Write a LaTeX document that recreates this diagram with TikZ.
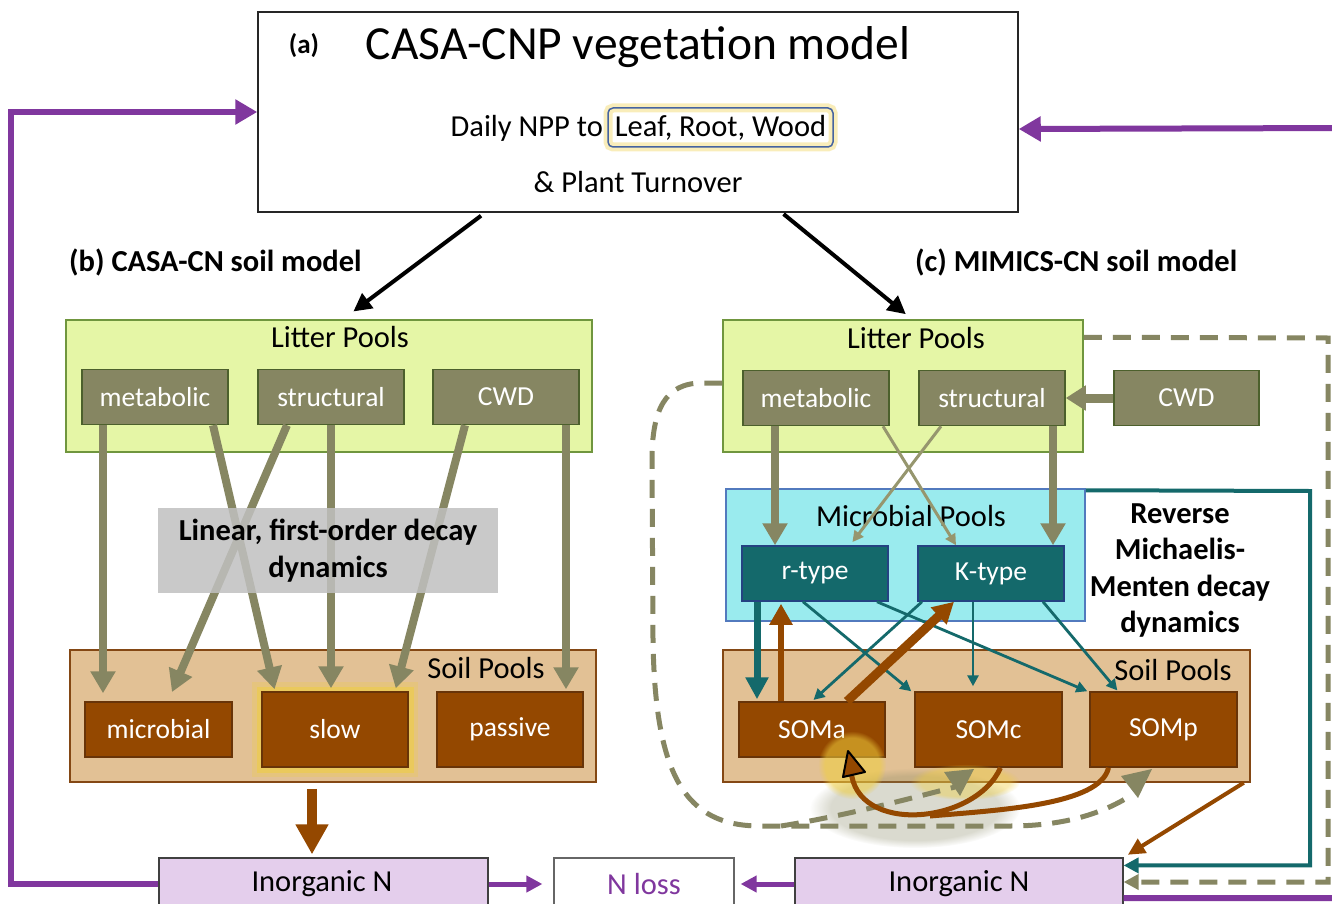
\documentclass[tikz,border=0pt]{standalone}
\usepackage{fontspec}
\setmainfont{Carlito}
\usetikzlibrary{arrows.meta,fadings}

% --- COLORES ---
\definecolor{litterFill}{RGB}{229,246,166}
\definecolor{litterEdge}{RGB}{112,150,62}
\definecolor{oliveDk}{RGB}{134,134,98}
\definecolor{oliveEdge}{RGB}{76,96,44}
\definecolor{oliveLt}{RGB}{150,150,110}
\definecolor{soilFill}{RGB}{226,193,149}
\definecolor{soilEdge}{RGB}{132,72,20}
\definecolor{brownDk}{RGB}{148,72,0}
\definecolor{brownEdge}{RGB}{104,52,8}
\definecolor{microbeFill}{RGB}{154,235,238}
\definecolor{microbeEdge}{RGB}{82,122,190}
\definecolor{tealDk}{RGB}{20,105,107}
\definecolor{tealEdge}{RGB}{36,66,130}
\definecolor{purpleN}{RGB}{128,55,158}
\definecolor{lavenderN}{RGB}{228,206,236}
\definecolor{grayBox}{RGB}{192,192,192}
\definecolor{glowYellow}{RGB}{240,206,60}
\definecolor{leafEdge}{RGB}{70,100,160}

\begin{document}
\begin{tikzpicture}[
    x=1pt, y=-1pt,
    % --- TEXTOS ---
    txt/.style={inner sep=0pt, font=\fontsize{30.5}{35}\selectfont},
    boldTxt/.style={inner sep=0pt, align=center, font=\bfseries\fontsize{30.5}{36.5}\selectfont},
    % --- CONTENEDORES ---
    poolArea/.style={line width=1.5pt, inner sep=0pt, minimum height=132pt},
    litterArea/.style={poolArea, fill=litterFill, draw=litterEdge},
    soilArea/.style={poolArea, fill=soilFill, draw=soilEdge},
    microbeArea/.style={poolArea, fill=microbeFill, draw=microbeEdge},
    % --- CAJAS DE RESERVORIOS ---
    pool/.style={line width=1.5pt, inner sep=0pt, minimum width=146pt, minimum height=55pt,
        text=white, font=\fontsize{27.5}{32}\selectfont},
    litterPool/.style={pool, fill=oliveDk, draw=oliveEdge},
    soilPool/.style={pool, fill=brownDk, draw=brownEdge},
    microbePool/.style={pool, fill=tealDk, draw=tealEdge},
    tallPool/.style={minimum height=75pt},
    nBox/.style={draw=black!75, line width=1.2pt, inner sep=0pt, minimum height=60pt},
    % --- FLECHAS ---
    arrBlack/.style={-{Triangle[length=18pt,width=18pt]}, line width=4pt, black},
    arrOlive/.style={-{Triangle[length=22pt,width=24pt]}, line width=8pt, oliveDk},
    arrOliveThin/.style={-{Triangle[length=11pt,width=11pt]}, line width=3pt, oliveLt},
    arrTeal/.style={-{Triangle[length=22pt,width=22pt]}, line width=7pt, tealDk},
    arrTealThin/.style={-{Triangle[length=11pt,width=11pt]}, line width=2.8pt, tealDk},
    arrBrown/.style={-{Triangle[length=21pt,width=22pt]}, line width=7pt, brownDk},
    arrPurple/.style={-{Triangle[length=22pt,width=24pt]}, line width=6pt, purpleN},
    arrPurpleSmall/.style={-{Triangle[length=16pt,width=16pt]}, line width=5pt, purpleN},
    dashOlive/.style={line width=5pt, oliveDk, dash pattern=on 18pt off 11pt},
    brownCurve/.style={line width=5pt, brownDk}
]
\useasboundingbox (0,0) rectangle (1332,904);
\fill[white] (0,0) rectangle (1332,904);

% --- (a) MODELO DE VEGETACION ---
\node[draw=black!85, line width=1.5pt, fill=white, inner sep=0pt,
      minimum width=760pt, minimum height=200pt] (veg) at (638,112) {};
\node[font=\bfseries\fontsize{27}{30}\selectfont] (vegTag) at (304,46) {(a)};
\node[font=\fontsize{47.5}{54}\selectfont] (vegTitle) at (638,47) {CASA-CNP vegetation model};
\node[txt, anchor=east] (npp) at (603,128) {Daily NPP to};
\node[txt, draw=leafEdge, line width=1.5pt, rounded corners=5pt, minimum width=225pt, minimum height=39pt,
      preaction={draw=glowYellow, line width=9pt, draw opacity=.35}] (leaf) at (720.5,127.5) {Leaf, Root, Wood};
\node[txt] (turnover) at (638,182) {\& Plant Turnover};

\node[boldTxt, anchor=west] (labB) at (69,262) {(b) CASA-CN soil model};
\node[boldTxt, anchor=west] (labC) at (915,262) {(c) MIMICS-CN soil model};

% --- (b) CASA-CN ---
\node[litterArea, minimum width=526pt] (litL) at (329,386) {};
\node[txt] (litLTxt) at (340,337) {Litter Pools};
\node[litterPool] (metL) at (155,397) {metabolic};
\node[litterPool] (strL) at (331,397) {structural};
\node[litterPool] (cwdL) at (506,397) {CWD};

\node[soilArea, minimum width=526pt] (soilL) at (333,716) {};
\node[txt] (soilLTxt) at (486,668) {Soil Pools};
\node[soilPool, minimum width=147pt] (micL) at (158.5,729.5) {microbial};
\node[soilPool, tallPool, preaction={draw=glowYellow, line width=20pt, draw opacity=.25},
      preaction={draw=glowYellow, line width=11pt, draw opacity=.5}] (slowL) at (335,729.5) {slow};
\node[soilPool, tallPool] (pasL) at (510,729.5) {passive};

\draw[arrOlive, shorten >=8pt] ([xshift=-52]metL.south) -- ([xshift=-55.5]micL.north);
\draw[arrOlive, shorten >=10pt] ([xshift=-44]strL.south) -- ([xshift=9.5]micL.north);
\draw[arrOlive, shorten >=2pt] ([xshift=58]metL.south) -- ([xshift=-60]slowL.north);
\draw[arrOlive, shorten >=3pt] (strL.south) -- (strL.south |- slowL.north);
\draw[arrOlive, shorten >=3pt] ([xshift=-41]cwdL.south) -- ([xshift=60]slowL.north);
\draw[arrOlive, shorten >=2pt] ([xshift=60]cwdL.south) -- ([xshift=56]pasL.north);

\node[boldTxt, fill=grayBox, fill opacity=.85, text opacity=1, minimum width=340pt, minimum height=85pt]
    (decayL) at (328,550.5) {Linear, first-order decay\\dynamics};

% --- (c) MIMICS-CN ---
\node[litterArea, minimum width=360pt] (litR) at (903,386) {};
\node[txt] (litRTxt) at (916,338) {Litter Pools};
\node[litterPool] (metR) at (816,398) {metabolic};
\node[litterPool] (strR) at (992,398) {structural};
\node[litterPool, minimum width=145pt] (cwdR) at (1186.5,398) {CWD};

\node[microbeArea, minimum width=359pt] (mic) at (905.5,555) {};
\node[txt] (micTxt) at (911,516) {Microbial Pools};
\node[microbePool] (rtype) at (815,573.5) {r-type};
\node[microbePool] (ktype) at (991,573.5) {K-type};

\node[boldTxt] (decayR) at (1180,570.5) {Reverse\\Michaelis-\\Menten decay\\dynamics};

\node[soilArea, minimum width=527pt] (soilR) at (986.5,716) {};
\node[txt] (soilRTxt) at (1173,670) {Soil Pools};
\node[soilPool] (somA) at (812,729.5) {SOMa};
\node[soilPool, tallPool, minimum width=147pt] (somC) at (988.5,729.5) {SOMc};
\node[soilPool, tallPool, minimum width=147pt] (somP) at (1163.5,729.5) {SOMp};

% brillo bajo las curvas
\fill[oliveDk, opacity=.3, path fading=circle with fuzzy edge 20 percent] (915,808) ellipse (105 and 40);
\fill[glowYellow, opacity=.55, path fading=circle with fuzzy edge 20 percent] (852,765) circle (34);
\fill[glowYellow, opacity=.4, path fading=circle with fuzzy edge 20 percent] (965,782) ellipse (55 and 18);

% hojarasca -> microbios
\draw[arrOlive, line width=9pt, -{Triangle[length=20pt,width=24pt]}] (cwdR.west) -- (strR.east);
\draw[arrOlive] ([xshift=-41]metR.south) -- ([xshift=-41]metR.south |- rtype.north);
\draw[arrOlive] ([xshift=61]strR.south) -- ([xshift=61]strR.south |- ktype.north);
\draw[arrOliveThin] ([xshift=67]metR.south) -- ([xshift=-35]ktype.north);
\draw[arrOliveThin, shorten >=4pt] ([xshift=-51]strR.south) -- ([xshift=35]rtype.north);

% microbios <-> suelo
\draw[arrTealThin] ([xshift=-12]rtype.south) -- ([xshift=-3]somC.north west);
\draw[arrTealThin] ([xshift=62]rtype.south) -- ([xshift=-2]somP.north west);
\draw[arrTealThin, shorten >=2pt] ([xshift=-69]ktype.south) -- (somA.north);
\draw[arrTealThin, shorten >=5pt] ([xshift=-18]ktype.south) -- ([xshift=-18]ktype.south |- somC.north);
\draw[arrTealThin, shorten >=1pt] ([xshift=52]ktype.south) -- ([xshift=-45.5]somP.north);
\draw[arrTeal, shorten >=2pt] ([xshift=-58]rtype.south) -- ([xshift=-55]somA.north);
\draw[arrBrown, line width=6pt, shorten >=2pt] ([xshift=-31]somA.north) -- ([xshift=-34]rtype.south);
\draw[arrBrown, line width=9pt] ([xshift=35]somA.north) -- ([xshift=-37]ktype.south);

% lazo discontinuo de hojarasca
\draw[dashOlive] ([yshift=3]litR.west) -- (702,383)
    .. controls (665,383) and (652,410) .. (652,460)
    -- (653,640)
    .. controls (655,775) and (685,826) .. (760,826)
    -- (1010,826)
    .. controls (1060,826) and (1100,815) .. (1130,796);
\draw[dashOlive] (781,826) .. controls (850,815) and (915,797) .. (955,787);
\fill[oliveDk] (944,772) -- (974,769) -- (960,796) -- cycle;
\fill[oliveDk] (1121,776) -- (1152,769) -- (1138,798) -- cycle;

% reciclaje hacia SOMa
\draw[brownCurve] ([xshift=12]somC.south) .. controls (975,825) and (855,835) .. (851,770);
\draw[brownCurve] ([xshift=-55]somP.south) .. controls (1100,805) and (1000,810) .. (930,816);
\filldraw[fill=brownDk, draw=black, line width=2pt, line join=round] (848,751) -- (843,777) -- (865,772) -- cycle;

% --- NITROGENO INORGANICO ---
\node[nBox, fill=lavenderN, minimum width=329pt] (inoL) at (323.5,888) {};
\node[txt] (inoLTxt) at (322,884) {Inorganic N};
\node[nBox, fill=white, draw=black!60, minimum width=180pt] (nloss) at (644,888) {};
\node[txt, text=purpleN] (nlossTxt) at (644,884) {N loss};
\node[nBox, fill=lavenderN, minimum width=328pt] (inoR) at (959,888) {};
\node[txt] (inoRTxt) at (959,884) {Inorganic N};

\draw[-{Triangle[length=30pt,width=31pt]}, line width=10pt, brownDk, shorten <=6pt, shorten >=3pt]
    ([xshift=-21]soilL.south) -- ([xshift=-21]soilL.south |- inoL.north);
\draw[-{Triangle[length=17pt,width=16pt]}, line width=4pt, brownDk, shorten >=5pt]
    ([xshift=-7]soilR.south east) -- (inoR.north east);
\draw[-{Triangle[length=15pt,width=15pt]}, line width=4pt, tealDk]
    ([yshift=-2]mic.north east) -- (1310,491) |- ([yshift=-8]inoR.north east);
\draw[dashOlive, -{Triangle[length=15pt,width=15pt]}]
    ([yshift=-18]litR.north east) -- (1328,338) |- ([yshift=6]inoR.east);

\draw[arrPurpleSmall, shorten >=11pt] ([yshift=4]inoL.east) -- ([yshift=4]nloss.west);
\draw[arrPurpleSmall, shorten >=6pt] ([yshift=4]inoR.west) -- ([yshift=4]nloss.east);
\draw[arrPurple] ([yshift=4]inoL.west) -| ([xshift=-246]veg.west) -- (veg.west);
\draw[arrPurple] ([yshift=-10]inoR.east) -- (1345,898) -- (1345,128) -- ([yshift=-17]veg.east);

% --- FLECHAS DEL MODELO DE VEGETACION ---
\draw[arrBlack, shorten <=5pt, shorten >=13pt] ([xshift=-153]veg.south) -- ([xshift=14]litL.north);
\draw[arrBlack, shorten <=2pt, shorten >=8pt] ([xshift=144]veg.south) -- ([xshift=9]litR.north);

\end{tikzpicture}
\end{document}
